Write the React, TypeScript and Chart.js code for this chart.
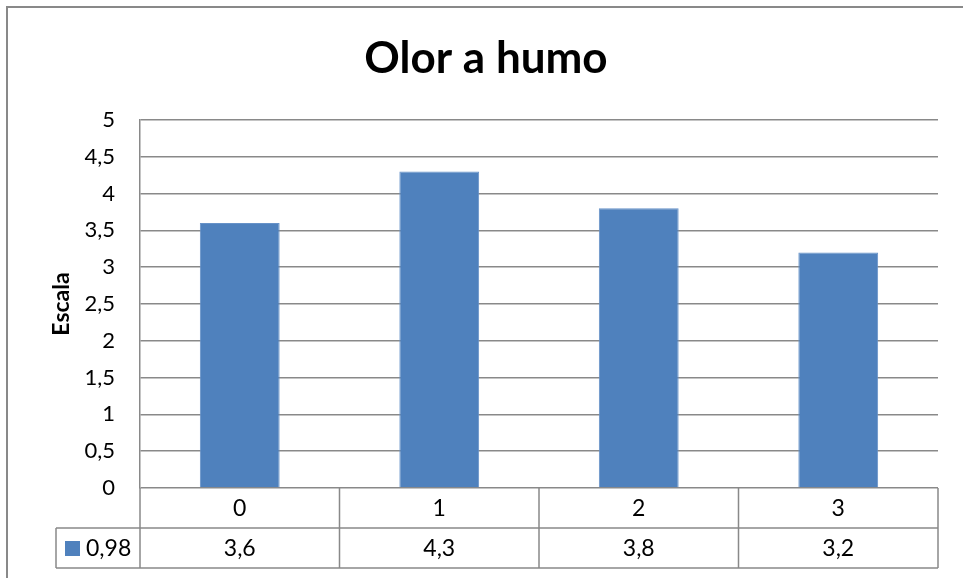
import React, { useEffect, useRef } from "react";
import { Chart, registerables } from "chart.js";

Chart.register(...registerables);

const chartTitle = "Olor a humo";
const yAxisTitle = "Escala";
const seriesName = "0,98";
const categories = ["0", "1", "2", "3"];
const values = [3.6, 4.3, 3.8, 3.2];
const yMin = 0;
const yMax = 5;
const yStep = 0.5;

const FONT = "Lato, 'Open Sans', sans-serif";
const BAR = "#4F81BD";
const LINE = "#898989";

const fmt = (v: number) => String(v).replace(".", ",");

const tablePlugin = {
  id: "excelTable",
  afterDraw(chart: any) {
    const ctx = chart.ctx as CanvasRenderingContext2D;
    const { left, right, bottom } = chart.chartArea;
    const xs = chart.scales.x;
    const n = categories.length;
    const half = (right - left) / n / 2;
    const rowH = 40;
    const legendLeft = 56;
    ctx.save();
    // outer frame
    ctx.strokeStyle = LINE;
    ctx.lineWidth = 2;
    ctx.beginPath();
    ctx.moveTo(7, chart.height);
    ctx.lineTo(7, 7);
    ctx.lineTo(chart.width, 7);
    ctx.stroke();

    // title
    ctx.fillStyle = "#000";
    ctx.font = `bold 44px ${FONT}`;
    ctx.textAlign = "center";
    ctx.textBaseline = "alphabetic";
    ctx.fillText(chartTitle, 486, 73);

    // table grid
    ctx.lineWidth = 1.5;
    ctx.strokeStyle = LINE;
    ctx.beginPath();
    ctx.moveTo(legendLeft, bottom + rowH);
    ctx.lineTo(right, bottom + rowH);
    ctx.moveTo(legendLeft, bottom + 2 * rowH);
    ctx.lineTo(right, bottom + 2 * rowH);
    ctx.moveTo(legendLeft, bottom + rowH);
    ctx.lineTo(legendLeft, bottom + 2 * rowH);
    for (let i = 0; i < n; i++) {
      const c = xs.getPixelForValue(i);
      ctx.moveTo(c - half, bottom);
      ctx.lineTo(c - half, bottom + 2 * rowH);
    }
    ctx.moveTo(right, bottom);
    ctx.lineTo(right, bottom + 2 * rowH);
    ctx.stroke();

    // texts
    ctx.font = `23px ${FONT}`;
    ctx.fillStyle = "#000";
    ctx.textAlign = "center";
    ctx.textBaseline = "middle";
    for (let i = 0; i < n; i++) {
      const c = xs.getPixelForValue(i);
      ctx.fillText(categories[i], c, bottom + rowH / 2 + 1);
      ctx.fillText(fmt(values[i]), c, bottom + rowH * 1.5 + 1);
    }
    // legend key
    ctx.fillStyle = BAR;
    ctx.fillRect(65, bottom + rowH * 1.5 - 7, 15, 15);
    ctx.fillStyle = "#000";
    ctx.textAlign = "left";
    ctx.fillText(seriesName, 86, bottom + rowH * 1.5 + 1);
    ctx.restore();
  },
};

export default function App() {
  const ref = useRef<HTMLCanvasElement | null>(null);
  useEffect(() => {
    if (!ref.current) return;
    const chart = new Chart(ref.current, {
      type: "bar",
      data: {
        labels: categories,
        datasets: [
          {
            label: seriesName,
            data: values,
            backgroundColor: BAR,
            borderColor: "#6792c8",
            borderWidth: { left: 1, right: 1, top: 1, bottom: 0 },
            barPercentage: 0.4,
            categoryPercentage: 1,
          },
        ],
      },
      options: {
        responsive: false,
        animation: false,
        devicePixelRatio: 1,
        layout: { padding: { top: 120, right: 25, bottom: 90, left: 0 } },
        plugins: {
          legend: { display: false },
          title: { display: false },
          tooltip: { enabled: false },
        },
        scales: {
          x: {
            display: false,
            offset: true,
            grid: { display: false },
          },
          y: {
            min: yMin,
            max: yMax,
            ticks: {
              stepSize: yStep,
              padding: 25,
              color: "#000",
              font: { family: FONT, size: 22 },
              callback: (v: any) => fmt(Number(v)),
            },
            grid: { color: LINE, lineWidth: 1.5, drawTicks: false },
            border: { display: true, color: LINE, width: 1.5 },
            title: {
              display: true,
              text: yAxisTitle,
              color: "#000",
              font: { family: FONT, size: 23, weight: "bold" },
              padding: { top: 48, bottom: 0 },
            },
            afterFit: (s: any) => {
              s.width = 140;
              s.paddingTop = 0;
              s.paddingBottom = 0;
            },
          },
        },
      },
      plugins: [tablePlugin],
    });
    return () => chart.destroy();
  }, []);
  return (
    <div style={{ position: "fixed", left: 0, top: 0, width: 963, height: 578, background: "#fff" }}>
      <canvas ref={ref} width={963} height={578} style={{ width: 963, height: 578, display: "block" }} />
    </div>
  );
}
